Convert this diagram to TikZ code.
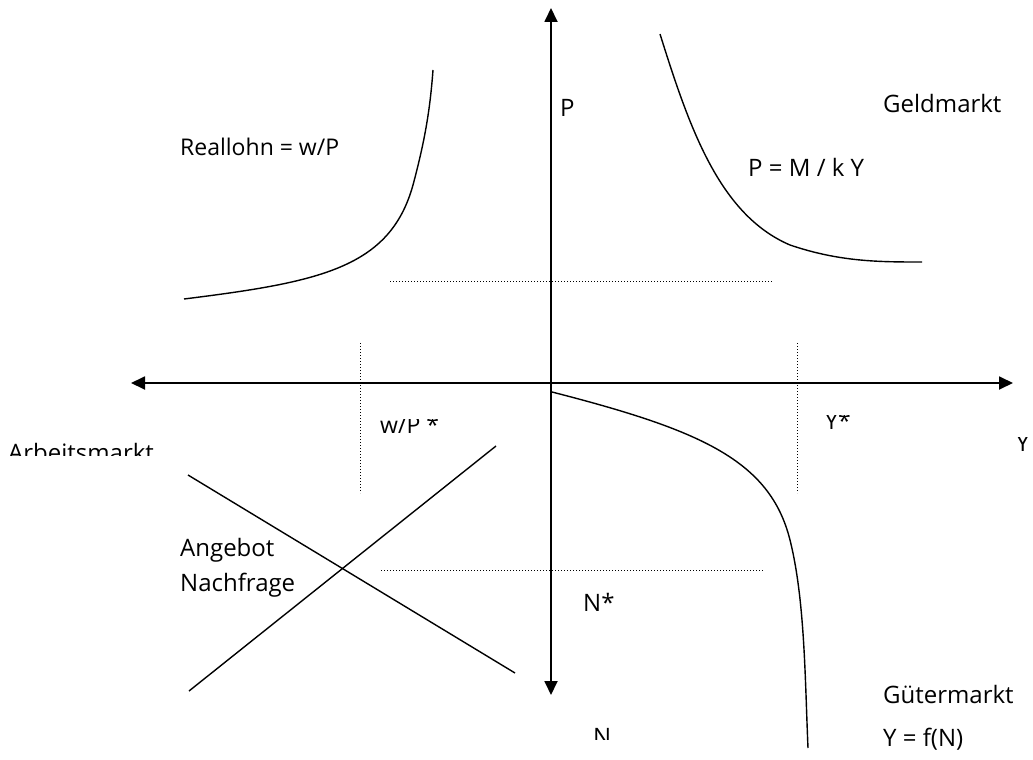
\documentclass[tikz,border=0pt]{standalone}
\usepackage{fontspec}
\setmainfont{Open Sans}
\usetikzlibrary{arrows.meta}
\begin{document}
\begin{tikzpicture}[x=1pt,y=-1pt,
  axis/.style={line width=1.8pt,{Triangle[length=14pt,width=13pt]}-{Triangle[length=14pt,width=13pt]}},
  curve/.style={line width=1.4pt},
  guide/.style={line width=1pt,dotted},
  lbl/.style={anchor=base west,inner sep=0pt,font=\fontsize{24}{28}\selectfont},
  small/.style={anchor=base west,inner sep=0pt,font=\fontsize{23}{27}\selectfont}]
\useasboundingbox (0,0) rectangle (1033,760);
% axes
\coordinate (ptop) at (551,8);
\coordinate (pbot) at (551,695);
\coordinate (xl) at (131,383);
\coordinate (xr) at (1013,383);
\draw[axis] (pbot) -- (ptop);
\draw[axis] (xl) -- (xr);
% curves
\coordinate (a1) at (184,299); \coordinate (a2) at (413,185); \coordinate (a3) at (433,70);
\draw[curve] (a1) .. controls (320,282) and (390,268) .. (a2) .. controls (425,140) and (430,110) .. (a3);
\coordinate (b1) at (660,34); \coordinate (b2) at (790,245); \coordinate (b3) at (922,262);
\draw[curve] (b1) .. controls (690,130) and (720,215) .. (b2) .. controls (840,262) and (880,262) .. (b3);
\coordinate (c1) at (552,392); \coordinate (c2) at (790,540); \coordinate (c3) at (808,748);
\draw[curve] (c1) .. controls (700,430) and (770,460) .. (c2) .. controls (805,600) and (805,680) .. (c3);
% labour market lines
\coordinate (d1) at (188,475); \coordinate (d2) at (515,673);
\coordinate (s1) at (189,691); \coordinate (s2) at (496,446);
\draw[curve] (d1) -- (d2);
\draw[curve] (s1) -- (s2);
% dotted guides
\coordinate (g1) at (390,281); \coordinate (g2) at (772,281);
\coordinate (g3) at (381,570); \coordinate (g4) at (763,570);
\coordinate (g5) at (360,343); \coordinate (g6) at (360,493);
\coordinate (g7) at (797,343); \coordinate (g8) at (797,493);
\draw[guide] (g1) -- (g2);
\draw[guide] (g3) -- (g4);
\draw[guide] (g5) -- (g6);
\draw[guide] (g7) -- (g8);
% labels
\node[lbl] (lP) at (560,116) {P};
\node[lbl] (lGeld) at (883,112) {Geldmarkt};
\node[small] (lReal) at (180,155) {Reallohn = w/P};
\node[lbl] (lPM) at (748,176) {P = M / k Y};
\node[lbl] (lAng) at (180,556) {Angebot};
\node[lbl] (lNach) at (180,591) {Nachfrage};
\node[lbl] (lNs) at (583,611) {N*};
\node[lbl] (lGut) at (883,703) {Gütermarkt};
\node[lbl] (lYf) at (883,746) {Y = f(N)};
\begin{scope}
\clip (0,0) rectangle (300,455);
\node[lbl] (lArb) at (8,461) {Arbeitsmarkt};
\end{scope}
\begin{scope}
\clip (370,419) rectangle (470,460);
\node[small] (lwP) at (380,433) {w/P *};
\end{scope}
\begin{scope}
\clip (810,415) rectangle (880,460);
\node[small] (lYs) at (825,429) {Y*};
\end{scope}
\begin{scope}
\clip (1000,437) rectangle (1033,470);
\node[lbl] (lY) at (1016,451) {Y};
\end{scope}
\begin{scope}
\clip (560,700) rectangle (660,739);
\node[lbl] (lN) at (593,745) {N};
\end{scope}
\end{tikzpicture}
\end{document}
